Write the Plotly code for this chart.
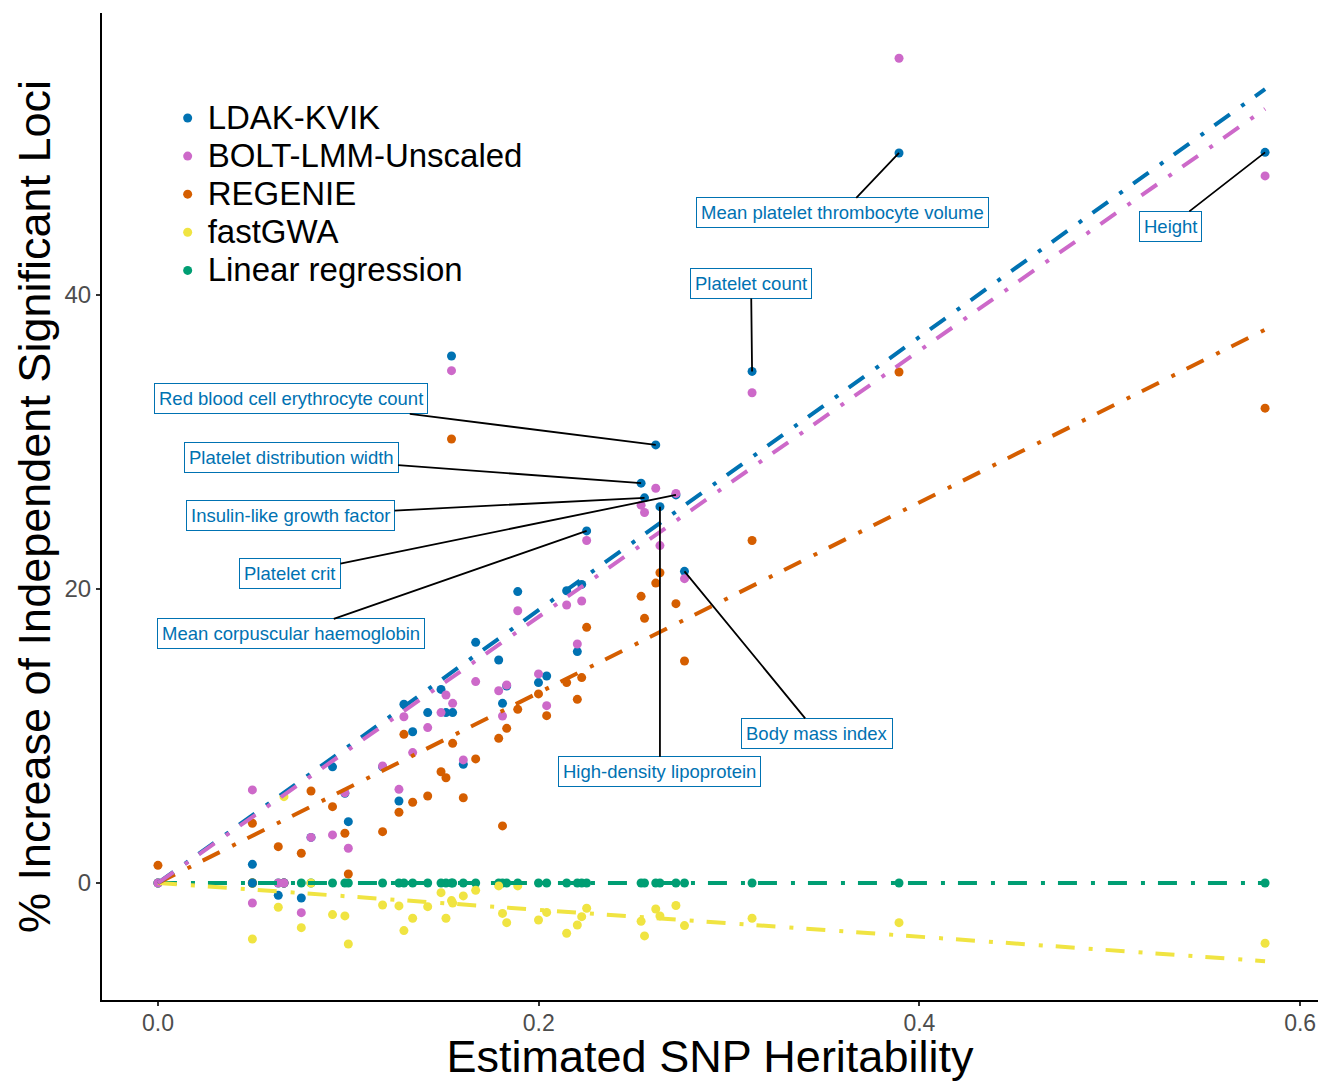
import numpy as np
import plotly.graph_objects as go

# ---- data ----
h2 = [0.0, 0.0496, 0.0496, 0.0632, 0.0662, 0.0753, 0.0804, 0.0917, 0.0982, 0.1,
      0.118, 0.1266, 0.1292, 0.1338, 0.1417, 0.1487, 0.1513, 0.1548, 0.1542, 0.1604,
      0.1669, 0.179, 0.181, 0.1832, 0.189, 0.1999, 0.2042, 0.2147, 0.2203, 0.2226,
      0.2252, 0.2538, 0.2556, 0.2615, 0.2637, 0.2721, 0.2766, 0.3121, 0.3893, 0.5816]

ldak_kvik = [0.0, 1.27, 0.0, -0.84, 0.0, -1.02, 3.1, 7.9, 6.1, 4.17,
             7.9, 5.58, 12.16, 10.29, 11.59, 13.17, 11.59, 11.59, 35.85, 8.07,
             16.37, 15.17, 12.22, 13.4, 19.82, 13.63, 14.08, 19.88, 15.74, 20.31,
             23.95, 27.2, 26.2, 29.8, 25.6, 26.4, 21.2, 34.8, 49.66, 49.7]

bolt_lmm = [0.0, 6.33, -1.36, 0.0, 0.0, -2.02, 3.1, 3.27, 6.14, 2.36,
            7.96, 6.37, 11.31, 8.87, 10.57, 11.59, 12.79, 12.22, 34.85, 8.37,
            13.7, 13.08, 11.36, 13.47, 18.52, 14.22, 12.06, 18.91, 16.26, 19.18,
            23.3, 25.7, 25.2, 26.85, 22.95, 26.5, 20.7, 33.35, 56.1, 48.1]

regenie = [1.2, 4.06, 0.0, 2.47, 0.0, 2.02, 6.26, 5.19, 3.38, 0.61,
           3.49, 4.81, 10.11, 5.49, 5.92, 7.57, 7.16, 9.5, 30.2, 5.8,
           8.44, 9.84, 3.88, 10.52, 11.81, 12.86, 11.38, 13.63, 12.49, 13.97,
           17.39, 19.5, 18.0, 20.4, 21.1, 19.0, 15.1, 23.3, 34.76, 32.3]

fastgwa = [0.0, -3.81, 0.0, -1.65, 5.87, -3.04, 0.0, -2.15, -2.24, -4.15,
           -1.5, -1.56, -3.24, -2.4, -1.61, -0.66, -2.4, -1.36, -1.2, -0.88,
           -0.5, -0.2, -2.07, -2.7, -0.2, -2.52, -2.0, -3.42, -2.86, -2.29,
           -1.72, -2.6, -3.6, -1.77, -2.24, -1.53, -2.9, -2.4, -2.7, -4.1]

linear_regression = [0, 0, 0, 0, 0, 0, 0, 0, 0, 0,
                     0, 0, 0, 0, 0, 0, 0, 0, 0, 0,
                     0, 0, 0, 0, 0, 0, 0, 0, 0, 0,
                     0, 0, 0, 0, 0, 0, 0, 0, 0, 0]

method_names = ["LDAK-KVIK", "BOLT-LMM-Unscaled", "REGENIE", "fastGWA", "Linear regression"]
method_values = [ldak_kvik, bolt_lmm, regenie, fastgwa, linear_regression]
method_colors = ["#0072B2", "#CD69C9", "#D55E00", "#F0E442", "#009E73"]

label_traits = ["Mean platelet thrombocyte volume", "Height", "Platelet count",
                "Red blood cell erythrocyte count", "Platelet distribution width",
                "Insulin-like growth factor", "Platelet crit", "Mean corpuscular haemoglobin",
                "Body mass index", "High-density lipoprotein"]
label_index = [38, 39, 37, 33, 31, 32, 35, 30, 36, 34]
# label box offsets from the point, in pixels (layout only)
label_dx = [-57, -95, -1, -365, -350, -354, -386, -296, 133, 0]
label_dy = [60, 74, -88, -46, -26, 18, 79, 103, 162, 265]

FONT = "Liberation Sans, Arial, Helvetica, sans-serif"

fig = go.Figure()

x = np.array(h2)
draw_order = [4, 3, 2, 0, 1]
for i in draw_order:
    fig.add_trace(go.Scatter(
        x=h2, y=method_values[i], mode="markers",
        name='<span style="font-size:33px">' + method_names[i] + '</span>',
        marker=dict(color=method_colors[i], size=9, line=dict(width=0)),
        legendrank=i + 1, showlegend=True))

# regression lines through the origin (lm(y ~ 0 + x))
for i in draw_order:
    y = np.array(method_values[i], dtype=float)
    slope = float(np.sum(x * y) / np.sum(x * x))
    xs = np.array([x.min(), x.max()])
    fig.add_trace(go.Scatter(
        x=xs, y=slope * xs, mode="lines", showlegend=False, hoverinfo="skip",
        line=dict(color=method_colors[i], width=4, dash="19px,14px,4px,13px")))

for name, idx, dx, dy in zip(label_traits, label_index, label_dx, label_dy):
    fig.add_annotation(
        x=h2[idx], y=ldak_kvik[idx], xref="x", yref="y",
        text=name, showarrow=True, arrowhead=0, arrowwidth=1.8, arrowcolor="black",
        ax=dx, ay=dy, standoff=0,
        font=dict(family=FONT, size=18.5, color="#0072B2"),
        bgcolor="white", bordercolor="#0072B2", borderwidth=1, borderpad=4)

fig.update_layout(
    width=1320, height=1082,
    margin=dict(l=102, r=2, t=13, b=82),
    paper_bgcolor="white", plot_bgcolor="white",
    font=dict(family=FONT, color="black"),
    showlegend=True,
    legend=dict(x=0.054, y=0.918, xanchor="left", yanchor="top",
                font=dict(family=FONT, size=27, color="black"),
                bgcolor="rgba(0,0,0,0)", itemsizing="trace", tracegroupgap=0),
    xaxis=dict(range=[-0.0294, 0.6094], showgrid=False, zeroline=False,
               showline=True, linecolor="black", linewidth=2,
               ticks="outside", ticklen=4, tickwidth=1.5, tickcolor="#333333",
               tickvals=[0.0, 0.2, 0.4, 0.6], tickformat=".1f",
               ticklabelstandoff=-3,
               tickfont=dict(family=FONT, size=23, color="#4D4D4D"),
               title=dict(text="Estimated SNP Heritability", standoff=14,
                          font=dict(family=FONT, size=45, color="black")),
               automargin=False),
    yaxis=dict(range=[-7.96, 59.18], showgrid=False, zeroline=False,
               showline=True, linecolor="black", linewidth=2,
               ticks="outside", ticklen=4, tickwidth=1.5, tickcolor="#333333",
               tickvals=[0, 20, 40],
               tickfont=dict(family=FONT, size=24, color="#4D4D4D"),
               title=dict(text="% Increase of Independent Significant Loci", standoff=0,
                          font=dict(family=FONT, size=45, color="black")),
               automargin=False),
)

fig.write_html("out.html", config={"displayModeBar": False},
               post_script="document.body.style.margin='0';document.body.style.overflow='hidden';")
